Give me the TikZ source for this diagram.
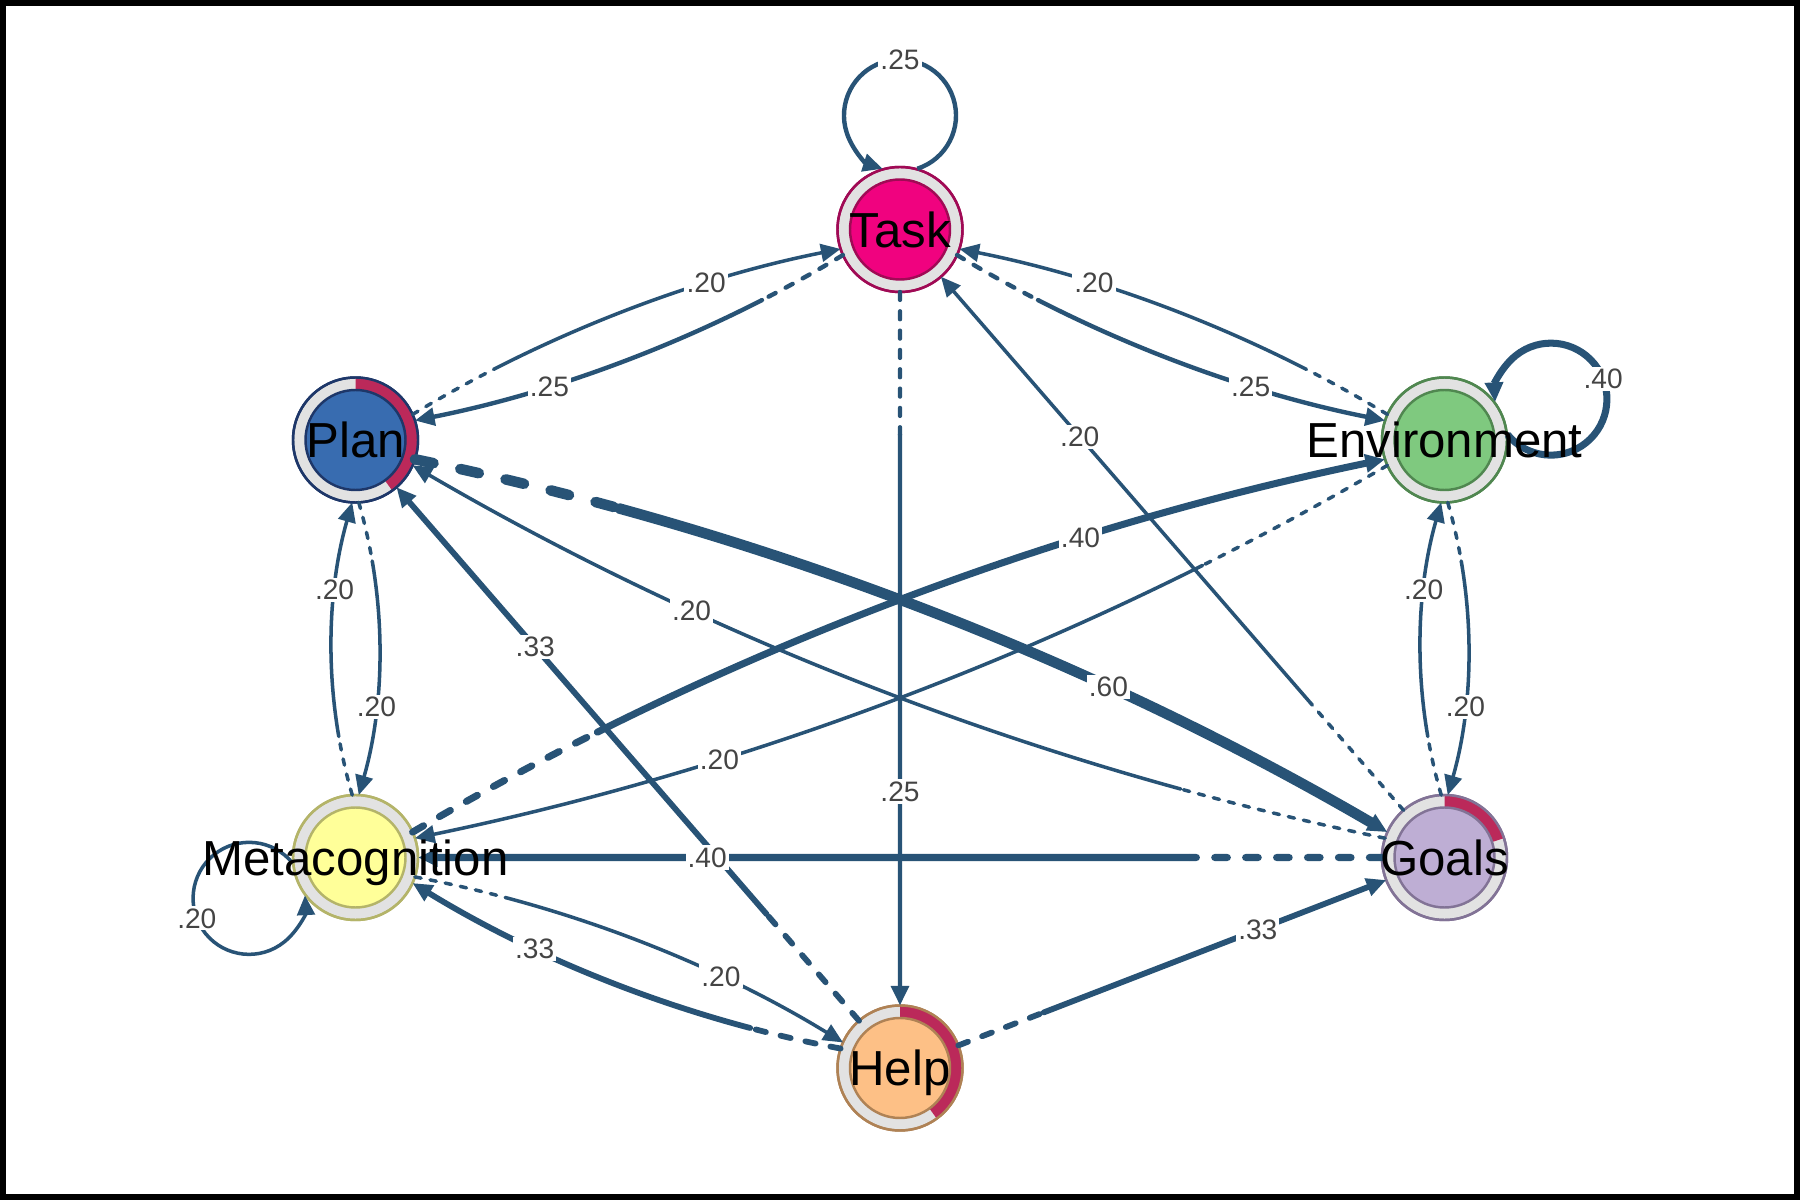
\documentclass[tikz,border=0pt]{standalone}
\usepackage{fontspec}
\setmainfont{Liberation Sans}
\usetikzlibrary{calc,arrows.meta}
\definecolor{edgeC}{RGB}{40,83,118}
\definecolor{lblC}{RGB}{68,68,68}
\definecolor{ringC}{RGB}{226,226,226}
\definecolor{pieC}{RGB}{187,41,90}
\definecolor{taskF}{HTML}{F0027F}\definecolor{taskB}{RGB}{160,10,85}
\definecolor{planF}{HTML}{386CB0}\definecolor{planB}{RGB}{30,55,105}
\definecolor{envF}{HTML}{7FC97F}\definecolor{envB}{RGB}{80,135,80}
\definecolor{metaF}{HTML}{FFFF99}\definecolor{metaB}{RGB}{180,180,105}
\definecolor{goalsF}{HTML}{BEAED4}\definecolor{goalsB}{RGB}{130,115,150}
\definecolor{helpF}{HTML}{FDC086}\definecolor{helpB}{RGB}{175,130,85}
\pgfdeclarelayer{front}
\pgfsetlayers{main,front}
\tikzset{
  statebox/.style={circle, minimum size=1.25cm, inner sep=0pt, line width=0.7pt, fill=ringC},
  nodetext/.style={anchor=base, font=\fontsize{14}{16}\selectfont, text=black, inner sep=0pt},
  elabel/.style={font=\fontsize{8}{9}\selectfont, text=lblC, fill=white, inner sep=0.6pt},
  earrow/.style={-{Triangle[length=5.6pt,width=5pt]}},
}
% name, position, fill, border, pie fraction
\newcommand\tnastate[5]{%
  \node[statebox, draw=#4] (#1) at (#2) {};
  \ifdim #5pt>0pt
    \fill[pieC] ($(#1.center)+(90:0.625)$) arc[start angle=90, end angle={90-360*#5}, radius=0.625]
      -- ($(#1.center)+({90-360*#5}:0.5)$) arc[start angle={90-360*#5}, end angle=90, radius=0.5] -- cycle;
  \fi
  \draw[#4, line width=0.7pt] (#1.center) circle (0.625);
  \filldraw[fill=#3, draw=#4, line width=0.7pt] (#1.center) circle (0.5);
}
% src, tgt, delta, h (cm), width (pt), label, label name
\newcommand\tnaedge[7]{%
  \pgfmathsetmacro\dOn{1.8*#5}\pgfmathsetmacro\dOff{2.6*#5}\pgfmathsetmacro\negd{-(#3)}%
  \coordinate (eA) at ($(#1.center)!0.625cm!#3:(#2.center)$);
  \coordinate (eB) at ($(#2.center)!0.625cm!\negd:(#1.center)$);
  \coordinate (eM) at ($(eA)!0.5!(eB)$);
  \coordinate (eC) at ($(eM)!#4cm!90:(eB)$);
  \coordinate (eQ0) at ($(eA)!0.2!(eC)$);
  \coordinate (eQ1) at ($(eC)!0.2!(eB)$);
  \coordinate (eS) at ($(eQ0)!0.2!(eQ1)$);
  \coordinate (eK0) at ($(eA)!0.7!(eC)$);
  \coordinate (eK1) at ($(eC)!0.7!(eB)$);
  \coordinate (eL) at ($(eK0)!0.7!(eK1)$);
  \draw[edgeC, line width=#5pt, line cap=round, dash pattern=on \dOn pt off \dOff pt]
    (eA) .. controls ($(eA)!0.6667!(eQ0)$) and ($(eS)!0.6667!(eQ0)$) .. (eS);
  \draw[edgeC, line width=#5pt, line cap=round, earrow]
    (eS) .. controls ($(eS)!0.6667!(eQ1)$) and ($(eB)!0.6667!(eQ1)$) .. (eB);
  \begin{pgfonlayer}{front}\node[elabel] (#7) at (eL) {#6};\end{pgfonlayer}
}
% node, direction, width, label, label name
\newcommand\tnaloop[5]{%
  \coordinate (lC) at ($(#1.center)+(#2:1.14)$);
  \pgfmathsetmacro\lpS{#2+198}\pgfmathsetmacro\lpE{#2+522}%
  \draw[edgeC, line width=#3pt, earrow] ($(lC)+(\lpS:0.56)$) arc[start angle=\lpS, end angle=\lpE, radius=0.56];
  \begin{pgfonlayer}{front}\node[elabel] (#5) at ($(lC)+(#2:0.56)$) {#4};\end{pgfonlayer}
}
\begin{document}
\begin{tikzpicture}
\useasboundingbox (0,0) rectangle (18,12);
\fill[white] (0,0) rectangle (18,12);
\draw[line width=0.06cm] (0.03,0.03) rectangle (17.97,11.97);

\tnastate{task}{9.00,9.705}{taskF}{taskB}{0}
\tnastate{plan}{3.555,7.60}{planF}{planB}{0.40}
\tnastate{env}{14.445,7.60}{envF}{envB}{0}
\tnastate{meta}{3.555,3.425}{metaF}{metaB}{0}
\tnastate{goals}{14.445,3.425}{goalsF}{goalsB}{0.20}
\tnastate{help}{9.00,1.32}{helpF}{helpB}{0.40}

\tnaedge{plan}{task}{3}{0.40}{1.0}{.20}{l1}
\tnaedge{task}{plan}{3}{0.40}{1.25}{.25}{l2}
\tnaedge{env}{task}{-3}{-0.40}{1.0}{.20}{l3}
\tnaedge{task}{env}{-3}{-0.40}{1.25}{.25}{l4}
\tnaedge{plan}{meta}{3}{0.42}{1.0}{.20}{l5}
\tnaedge{meta}{plan}{3}{0.42}{1.0}{.20}{l6}
\tnaedge{env}{goals}{3}{0.42}{1.0}{.20}{l7}
\tnaedge{goals}{env}{3}{0.42}{1.0}{.20}{l8}
\tnaedge{meta}{help}{3}{0.42}{1.0}{.20}{l9}
\tnaedge{help}{meta}{3}{0.42}{1.65}{.33}{l10}
\tnaedge{plan}{goals}{3}{0.85}{3.0}{.60}{l11}
\tnaedge{goals}{plan}{3}{0.85}{1.0}{.20}{l12}
\tnaedge{meta}{env}{3}{0.85}{2.0}{.40}{l13}
\tnaedge{env}{meta}{3}{0.85}{1.0}{.20}{l14}
\tnaedge{goals}{task}{0}{0}{1.0}{.20}{l15}
\tnaedge{task}{help}{0}{0}{1.25}{.25}{l16}
\tnaedge{help}{plan}{0}{0}{1.65}{.33}{l17}
\tnaedge{goals}{meta}{0}{0}{2.0}{.40}{l18}
\tnaedge{help}{goals}{0}{0}{1.65}{.33}{l19}

\tnaloop{task}{90}{1.25}{.25}{lp1}
\tnaloop{env}{21}{2.0}{.40}{lp2}
\tnaloop{meta}{201}{1.0}{.20}{lp3}

\begin{pgfonlayer}{front}
\node[nodetext] (taskT) at ($(task.center)+(0,-0.176)$) {Task};
\node[nodetext] (planT) at ($(plan.center)+(0,-0.176)$) {Plan};
\node[nodetext] (envT) at ($(env.center)+(0,-0.176)$) {Environment};
\node[nodetext] (metaT) at ($(meta.center)+(0,-0.176)$) {Metacognition};
\node[nodetext] (goalsT) at ($(goals.center)+(0,-0.176)$) {Goals};
\node[nodetext] (helpT) at ($(help.center)+(0,-0.176)$) {Help};
\end{pgfonlayer}
\end{tikzpicture}
\end{document}
